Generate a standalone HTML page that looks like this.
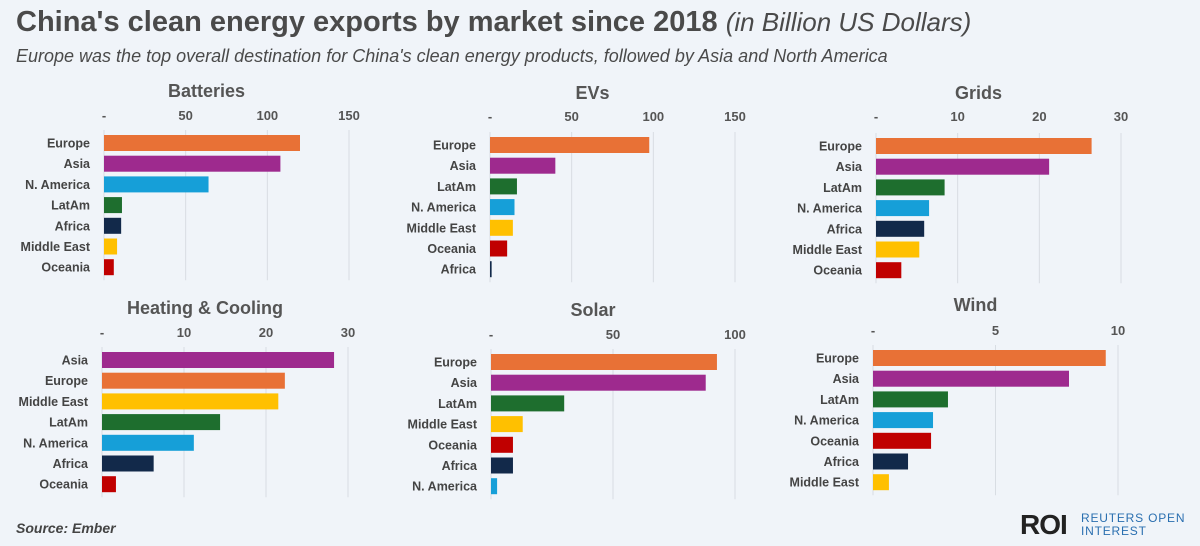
<!DOCTYPE html>
<html><head><meta charset="utf-8">
<style>
body{margin:0;width:1200px;height:546px;background:#f0f4f9;font-family:"Liberation Sans",sans-serif;overflow:hidden;position:relative}
#t{position:absolute;left:16px;top:6px;font-size:29px;font-weight:bold;color:#4a4a4a;white-space:nowrap}
#t i{font-weight:normal;font-size:26px}
#s{position:absolute;left:16px;top:46px;font-size:18px;font-style:italic;color:#4a4a4a;white-space:nowrap}
#src{position:absolute;left:16px;top:520px;font-size:14px;font-weight:bold;font-style:italic;color:#444}
#roi{position:absolute;left:1020px;top:509px;font-size:28px;font-weight:bold;color:#222;letter-spacing:-1px}
#roi2{position:absolute;left:1081px;top:512px;font-size:12px;color:#2a6fb0;letter-spacing:0.8px;line-height:13px}
svg{position:absolute;left:0;top:0}
</style></head><body>
<div id="t">China's clean energy exports by market since 2018 <i>(in Billion US Dollars)</i></div>
<div id="s">Europe was the top overall destination for China's clean energy products, followed by Asia and North America</div>
<div id="src">Source: Ember</div>
<div id="roi">ROI</div>
<div id="roi2">REUTERS OPEN<br>INTEREST</div>
<svg id="c" width="1200" height="546"></svg>
<script>
const colors={"Europe":"#e87136","Asia":"#9e2a8e","N. America":"#169fd8","LatAm":"#1e6e2e","Africa":"#12294a","Middle East":"#ffc000","Oceania":"#c00000"};
const titles=["Batteries","EVs","Grids","Heating & Cooling","Solar","Wind"];
const batteriesCats=["Europe","Asia","N. America","LatAm","Africa","Middle East","Oceania"];
const batteriesVals=[120,108,64,11,10.5,8,6];
const evsCats=["Europe","Asia","LatAm","N. America","Middle East","Oceania","Africa"];
const evsVals=[97.5,40,16.5,15,14,10.5,1];
const gridsCats=["Europe","Asia","LatAm","N. America","Africa","Middle East","Oceania"];
const gridsVals=[26.4,21.2,8.4,6.5,5.9,5.3,3.1];
const heatCats=["Asia","Europe","Middle East","LatAm","N. America","Africa","Oceania"];
const heatVals=[28.3,22.3,21.5,14.4,11.2,6.3,1.7];
const solarCats=["Europe","Asia","LatAm","Middle East","Oceania","Africa","N. America"];
const solarVals=[92.6,88,30,13,9,9,2.5];
const windCats=["Europe","Asia","LatAm","N. America","Oceania","Africa","Middle East"];
const windVals=[9.5,8,3.06,2.45,2.37,1.43,0.65];
const batteriesTicks=[0,50,100,150];
const evsTicks=[0,50,100,150];
const gridsTicks=[0,10,20,30];
const heatTicks=[0,10,20,30];
const solarTicks=[0,50,100];
const windTicks=[0,5,10];
const panels=[
 {cats:batteriesCats,vals:batteriesVals,ticks:batteriesTicks,x0:104,x1:349,max:150,title:91,tick:115,r0:143},
 {cats:evsCats,vals:evsVals,ticks:evsTicks,x0:490,x1:735,max:150,title:93,tick:116,r0:145},
 {cats:gridsCats,vals:gridsVals,ticks:gridsTicks,x0:876,x1:1121,max:30,title:93,tick:116,r0:146},
 {cats:heatCats,vals:heatVals,ticks:heatTicks,x0:102,x1:348,max:30,title:308,tick:332,r0:360},
 {cats:solarCats,vals:solarVals,ticks:solarTicks,x0:491,x1:735,max:100,title:310,tick:334,r0:362},
 {cats:windCats,vals:windVals,ticks:windTicks,x0:873,x1:1118,max:10,title:305,tick:330,r0:358}
];
const NS="http://www.w3.org/2000/svg",svg=document.getElementById('c');
function mk(tag,a,p){const e=document.createElementNS(NS,tag);for(const k in a)e.setAttribute(k,a[k]);(p||svg).appendChild(e);return e;}
panels.forEach((p,pi)=>{
 const g=mk('g',{});
 
 
 const sx=v=>p.x0+(v/p.max)*(p.x1-p.x0);
 const step=20.7;
 const t=mk('text',{x:(p.x0+p.x1)/2-20,y:p.title+6,'text-anchor':'middle','font-size':18,'font-weight':'bold',fill:'#555'},g);
 t.textContent=titles[pi];
 
 
 p.ticks.forEach(v=>{
  const x=sx(v);
  const l=mk('line',{x1:x,x2:x,y1:p.r0-13,y2:p.r0+step*6+13,stroke:'#d8dde3','stroke-width':1},g);
  
  
  const tx=mk('text',{x:x,y:p.tick+5,'text-anchor':'middle','font-size':13,'font-weight':'bold',fill:'#555'},g);
  tx.textContent=v===0?'-':v;
  
  
 });
 p.cats.forEach((c,i)=>{
  const y=p.r0+i*step;
  const r=mk('rect',{x:p.x0,y:y-8,width:Math.max(1,sx(p.vals[i])-p.x0),height:16,fill:colors[c]},g);
  
  
  const lb=mk('text',{x:p.x0-14,y:y+4.5,'text-anchor':'end','font-size':12.5,'font-weight':'bold',fill:'#444'},g);
  lb.textContent=c;
  
  
 });
});
</script>
</body></html>
